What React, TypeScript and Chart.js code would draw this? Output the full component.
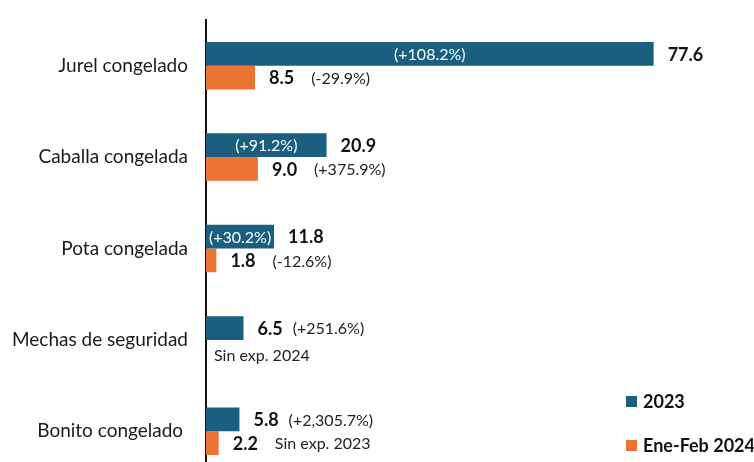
import React, { useEffect, useRef } from "react";
import { Chart, registerables } from "chart.js";

Chart.register(...registerables);

const categories = [
  "Jurel congelado",
  "Caballa congelada",
  "Pota congelada",
  "Mechas de seguridad",
  "Bonito congelado ",
];
const values2023 = [77.6, 20.9, 11.8, 6.5, 5.8];
const valuesEneFeb2024 = [8.5, 9.0, 1.8, null, 2.2];
const pct2023 = ["(+108.2%)", "(+91.2%)", "(+30.2%)", "(+251.6%)", "(+2,305.7%)"];
const pctInside2023 = [true, true, true, false, false];
const note2024 = ["(-29.9%)", "(+375.9%)", "(-12.6%)", "Sin exp. 2024", "Sin exp. 2023"];
const seriesNames = ["2023", "Ene-Feb 2024"];

const BLUE = "#1A5F80";
const ORANGE = "#EC7433";
const FONT = 'Lato, "Open Sans", sans-serif';

const labelPlugin = {
  id: "barLabels",
  afterDatasetsDraw(chart: any) {
    const ctx = chart.ctx;
    ctx.save();
    ctx.textBaseline = "middle";
    ctx.textAlign = "left";
    const boldFont = `bold 18px ${FONT}`;
    const regFont = `16px ${FONT}`;
    const gap = 14;

    const m0 = chart.getDatasetMeta(0);
    m0.data.forEach((bar: any, i: number) => {
      const { x, y, base } = bar.getProps(["x", "y", "base"], true);
      const valTxt = values2023[i].toFixed(1);
      ctx.font = boldFont;
      ctx.fillStyle = "#111";
      ctx.fillText(valTxt, x + gap, y + 1);
      const vw = ctx.measureText(valTxt).width;
      ctx.font = regFont;
      if (pctInside2023[i]) {
        ctx.fillStyle = "#fff";
        ctx.textAlign = "center";
        ctx.fillText(pct2023[i], (x + base) / 2, y + 1);
        ctx.textAlign = "left";
      } else {
        ctx.fillStyle = "#222";
        ctx.fillText(pct2023[i], x + gap + vw + 10, y + 1);
      }
    });

    const m1 = chart.getDatasetMeta(1);
    m1.data.forEach((bar: any, i: number) => {
      const { x, y, base } = bar.getProps(["x", "y", "base"], true);
      const v = valuesEneFeb2024[i];
      if (v === null || v === undefined) {
        ctx.font = regFont;
        ctx.fillStyle = "#222";
        ctx.fillText(note2024[i], base + 8, y + 4);
        return;
      }
      const valTxt = v.toFixed(1);
      ctx.font = boldFont;
      ctx.fillStyle = "#111";
      ctx.fillText(valTxt, x + gap, y + 1);
      const vw = ctx.measureText(valTxt).width;
      ctx.font = regFont;
      ctx.fillStyle = "#222";
      ctx.fillText(note2024[i], x + gap + vw + 17, y + 1);
    });

    // legend
    const colors = [BLUE, ORANGE];
    const lx = chart.chartArea.right - 128;
    const ly = [401, 445];
    seriesNames.forEach((name, k) => {
      ctx.fillStyle = colors[k];
      ctx.fillRect(lx, ly[k] - 5, 11, 11);
      ctx.font = boldFont;
      ctx.fillStyle = "#111";
      ctx.fillText(name, lx + 17, ly[k] + 1);
    });
    ctx.restore();
  },
};

export default function App() {
  const ref = useRef<HTMLCanvasElement | null>(null);
  useEffect(() => {
    if (!ref.current) return;
    const chart = new Chart(ref.current, {
      type: "bar",
      data: {
        labels: categories,
        datasets: [
          {
            label: seriesNames[0],
            data: values2023,
            backgroundColor: BLUE,
            categoryPercentage: 0.52,
            barPercentage: 1,
          },
          {
            label: seriesNames[1],
            data: valuesEneFeb2024 as any,
            backgroundColor: ORANGE,
            categoryPercentage: 0.52,
            barPercentage: 1,
          },
        ],
      },
      options: {
        indexAxis: "y",
        responsive: false,
        maintainAspectRatio: false,
        animation: false,
        layout: { padding: { top: 20, right: 0, bottom: 0, left: 0 } },
        plugins: {
          legend: { display: false },
          tooltip: { enabled: false },
        },
        scales: {
          x: {
            display: false,
            min: 0,
            max: 95,
          },
          y: {
            grid: { display: false, drawTicks: false },
            border: { display: true, color: "#111", width: 2 },
            ticks: {
              color: "#1a1a1a",
              font: { family: FONT, size: 19 },
              padding: 18,
            },
            afterFit(scale: any) {
              scale.width = 206;
              scale.paddingTop = 0;
              scale.paddingBottom = 0;
            },
          },
        },
      },
      plugins: [labelPlugin],
    });
    return () => chart.destroy();
  }, []);

  return (
    <div
      style={{
        position: "fixed",
        left: 0,
        top: 0,
        width: 754,
        height: 462,
        overflow: "hidden",
        background: "#fff",
      }}
    >
      <canvas
        ref={ref}
        width={754}
        height={477}
        style={{ display: "block", width: 754, height: 477 }}
      />
    </div>
  );
}
